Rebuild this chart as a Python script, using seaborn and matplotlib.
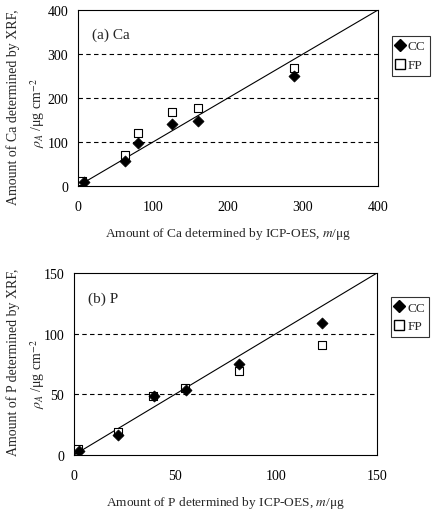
import matplotlib
matplotlib.use("Agg")
import matplotlib.pyplot as plt
import seaborn as sns
import pandas as pd
from matplotlib.lines import Line2D

sns.set_theme(style="white")
plt.rcParams['font.family'] = ['Liberation Serif', 'DejaVu Serif']
plt.rcParams['mathtext.fontset'] = 'stix'

# Ca data
ca_icp_cc = [8, 62, 80, 125, 160, 288]
ca_xrf_cc = [9, 57, 98, 140, 148, 250]
ca_icp_fp = [5, 62, 80, 125, 160, 288]
ca_xrf_fp = [12, 70, 120, 168, 178, 268]

# P data
p_icp_cc = [2.5, 21.8, 39.4, 55.3, 81.7, 123]
p_xrf_cc = [3.3, 16.8, 48.4, 53.4, 74.9, 108.7]
p_icp_fp = [2, 21.6, 39, 55, 81.7, 123]
p_xrf_fp = [5, 18.7, 49, 55.6, 69.6, 90.3]

ca_ticks = [0, 100, 200, 300, 400]
p_ticks = [0, 50, 100, 150]

fig = plt.figure(figsize=(4.36, 5.10), dpi=100)
W, H = 436, 510
ax1 = fig.add_axes([78 / W, 1 - 187 / H, 300 / W, 176 / H])
ax2 = fig.add_axes([74 / W, 1 - 456 / H, 303 / W, 182 / H])

def panel(ax, xcc, ycc, xfp, yfp, ticks, grid, elem, label, leg_y, yl1, yl2):
    df = pd.concat([
        pd.DataFrame({"x": xcc, "y": ycc, "method": "CC"}),
        pd.DataFrame({"x": xfp, "y": yfp, "method": "FP"}),
    ])
    lim = ticks[-1]
    ax.plot([0, lim], [0, lim], color="black", lw=0.8, zorder=1)
    for g in grid:
        ax.axhline(g, color="black", ls=(0, (4, 3)), lw=0.8, zorder=0)
    sns.scatterplot(data=df[df.method == "FP"], x="x", y="y", ax=ax, marker="s",
                    s=40, facecolor="white", edgecolor="black", linewidth=0.8,
                    zorder=3, legend=False)
    sns.scatterplot(data=df[df.method == "CC"], x="x", y="y", ax=ax, marker="D",
                    s=32, color="black", edgecolor="black", linewidth=0.5,
                    zorder=4, legend=False)
    ax.set_xlim(0, lim)
    ax.set_ylim(0, lim)
    ax.set_xticks(ticks)
    ax.set_yticks(ticks)
    ax.tick_params(direction="in", length=4, width=0.8, labelsize=10,
                   colors="black")
    ax.tick_params(axis="x", pad=10)
    ax.tick_params(axis="y", pad=7)
    for s in ax.spines.values():
        s.set_color("black")
        s.set_linewidth(0.8)
    ax.set_xlabel(f"Amount of {elem} determined by ICP-OES, $m$/μg",
                  fontsize=9.6, labelpad=9)
    ax.set_ylabel("")
    fig.text(13 / W, 1 - yl1 / H, f"Amount of {elem} determined by XRF,",
             rotation=90, ha="center", va="center", fontsize=10)
    fig.text(38 / W, 1 - yl2 / H, "$\\rho_A$ /μg cm$^{-2}$",
             rotation=90, ha="center", va="center", fontsize=10)
    ax.text(0.045, 0.86, label, transform=ax.transAxes, fontsize=11, va="center")
    handles = [Line2D([], [], marker="D", ls="", color="black", markersize=6),
               Line2D([], [], marker="s", ls="", markerfacecolor="white",
                      markeredgecolor="black", markersize=7)]
    leg = ax.legend(handles, ["CC", "FP"], loc="upper left",
                    bbox_to_anchor=(1.045, leg_y), frameon=True, fancybox=False,
                    edgecolor="black", fontsize=9.5, handlelength=0.6,
                    handletextpad=0.3, borderpad=0.35, labelspacing=0.5,
                    borderaxespad=0)
    leg.get_frame().set_linewidth(0.8)

panel(ax1, ca_icp_cc, ca_xrf_cc, ca_icp_fp, ca_xrf_fp, ca_ticks, [100, 200, 300],
      "Ca", "(a) Ca", 0.855, 107, 113)
panel(ax2, p_icp_cc, p_xrf_cc, p_icp_fp, p_xrf_fp, p_ticks, [50, 100],
      "P", "(b) P", 0.87, 362, 374)

fig.savefig("out.png", dpi=100)
